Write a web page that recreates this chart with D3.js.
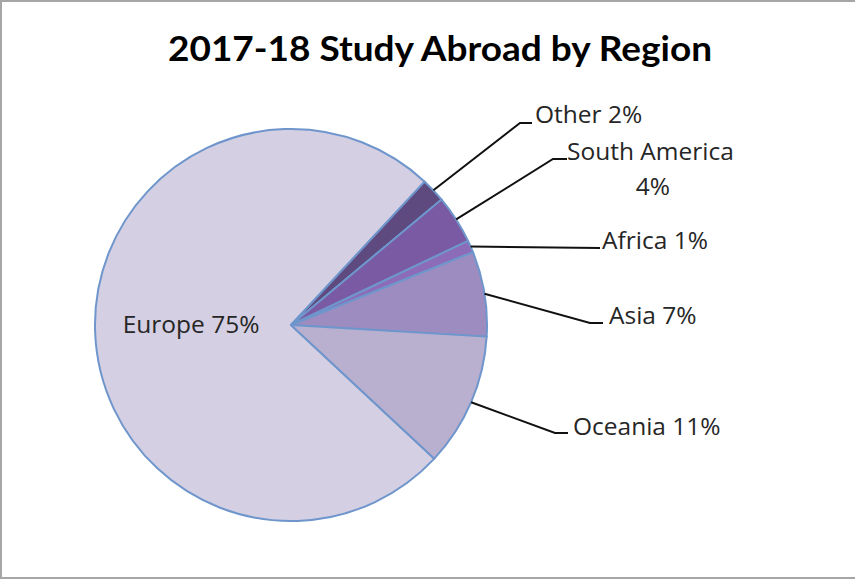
<!DOCTYPE html>
<html><head><meta charset="utf-8">
<script src="https://cdn.jsdelivr.net/npm/d3@7"></script>
<style>html,body{margin:0;padding:0;background:#fff;} svg{display:block;}</style>
</head><body>
<svg id="chart" width="855" height="580"></svg>
<script>
const title = "2017-18 Study Abroad by Region";
const regions = ["Europe", "Other", "South America", "Africa", "Asia", "Oceania"];
const shares = [75, 2, 4, 1, 7, 11];
const colors = ["#d4cfe2", "#5f4a80", "#7a5aa2", "#8c6cb8", "#9d8cbf", "#b9afce"];

// label layout (leader-line elbow/end and text position)
const labelLayout = {
  "Other": {elbow:[520,123], end:[532,123], tx:535, ty:113, lines:["Other 2%"]},
  "South America": {elbow:[553,159], end:[567,159], tx:567, ty:150, lines:["South America","4%"], center:653},
  "Africa": {elbow:[600,248], end:[600,248], tx:602, ty:239, lines:["Africa 1%"]},
  "Asia": {elbow:[590,323], end:[603,323], tx:609, ty:314, lines:["Asia 7%"]},
  "Oceania": {elbow:[555,433], end:[568,433], tx:573, ty:425, lines:["Oceania 11%"]}
};

const svg = d3.select("#chart");
svg.append("rect").attr("x",1).attr("y",1).attr("width",870).attr("height",577)
  .attr("fill","#fff").attr("stroke","#a6a6a6").attr("stroke-width",2);

svg.append("text").attr("x",440).attr("y",61).attr("text-anchor","middle")
  .attr("font-family","Lato, 'Open Sans', sans-serif").attr("font-weight","bold")
  .attr("font-size",35).attr("fill","#000")
  .attr("textLength",544).attr("lengthAdjust","spacingAndGlyphs").text(title);

const cx = 291, cy = 325, R = 196;
const data = regions.map((r,i)=>({region:r, value:shares[i], color:colors[i]}));
const pie = d3.pie().value(d=>d.value).sort(null)
  .startAngle(133*Math.PI/180).endAngle(133*Math.PI/180 + 2*Math.PI);
const arcs = pie(data);
const arc = d3.arc().innerRadius(0).outerRadius(R);
const g = svg.append("g").attr("transform",`translate(${cx},${cy})`);
g.selectAll("path").data(arcs).join("path")
  .attr("d",arc).attr("fill",d=>d.data.color)
  .attr("stroke","#6f96cc").attr("stroke-width",2).attr("stroke-linejoin","round");

const font = "'Open Sans', sans-serif";
const fs = 24.5;
const txtColor = "#262626";
// Europe inside label
const eu = arcs.find(a=>a.data.region==="Europe");
const inner = d3.arc().innerRadius(R*0.51).outerRadius(R*0.51);
const c = inner.centroid(eu);
g.append("text").attr("x",c[0]).attr("y",c[1]-5).attr("text-anchor","middle")
  .attr("dominant-baseline","central").attr("font-family",font).attr("font-size",fs)
  .attr("fill",txtColor).text(`${eu.data.region} ${eu.data.value}%`);

// outside labels with leader lines
arcs.filter(a=>a.data.region!=="Europe").forEach(a=>{
  const L = labelLayout[a.data.region];
  const mid = (a.startAngle+a.endAngle)/2;
  const sx = cx + R*Math.sin(mid), sy = cy - R*Math.cos(mid);
  svg.append("polyline")
    .attr("points",[[sx,sy],L.elbow,L.end].map(p=>p.join(",")).join(" "))
    .attr("fill","none").attr("stroke","#111").attr("stroke-width",2);
  L.lines.forEach((t,i)=>{
    svg.append("text")
      .attr("x", i===0 ? L.tx : L.center)
      .attr("y", L.ty + i*35)
      .attr("text-anchor", i===0 ? "start" : "middle")
      .attr("dominant-baseline","central")
      .attr("font-family",font).attr("font-size",fs).attr("fill",txtColor).text(t);
  });
});
</script>
</body></html>
